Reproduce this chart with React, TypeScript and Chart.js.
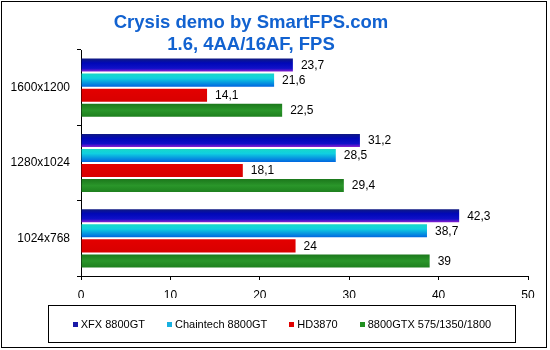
import { useEffect, useRef } from 'react';
import { Chart, registerables } from 'chart.js';

Chart.register(...registerables);

const categories = ['1600x1200', '1280x1024', '1024x768'];
const seriesNames = ['XFX 8800GT', 'Chaintech 8800GT', 'HD3870', '8800GTX 575/1350/1800'];
const xfx = [23.7, 31.2, 42.3];
const chaintech = [21.6, 28.5, 38.7];
const hd3870 = [14.1, 18.1, 24];
const gtx = [22.5, 29.4, 39];
const xMin = 0;
const xMax = 50;
const xStep = 10;
const titleLines = ['Crysis demo by SmartFPS.com', '1.6, 4AA/16AF, FPS'];

const FONT = '"Liberation Sans", Arial, sans-serif';

const gradientStops: [number, string][][] = [
  [[0, '#101a80'], [0.35, '#0008b8'], [0.75, '#1010c8'], [1, '#8a1ed0']],
  [[0, '#18d8c8'], [0.35, '#10d0e0'], [1, '#0066e0']],
  [[0, '#e40000'], [1, '#d80000']],
  [[0, '#1c781c'], [0.5, '#2a962a'], [1, '#1e801e']],
];
const markerColors = ['#1a1aa8', '#18b0e0', '#e00000', '#209020'];

const gradientPlugin = {
  id: 'barGradients',
  beforeDatasetsDraw(chart: any) {
    const ctx = chart.ctx;
    chart.data.datasets.forEach((_: any, i: number) => {
      const meta = chart.getDatasetMeta(i);
      meta.data.forEach((el: any) => {
        const top = el.y - el.height / 2;
        const bottom = el.y + el.height / 2;
        const g = ctx.createLinearGradient(0, top, 0, bottom);
        gradientStops[i].forEach(([o, c]) => g.addColorStop(o, c));
        el.options = Object.assign({}, el.options, { backgroundColor: g });
      });
    });
  },
};

const labelPlugin = {
  id: 'valueLabels',
  afterDatasetsDraw(chart: any) {
    const ctx = chart.ctx;
    ctx.save();
    ctx.font = `12px ${FONT}`;
    ctx.fillStyle = '#000';
    ctx.textAlign = 'left';
    ctx.textBaseline = 'middle';
    chart.data.datasets.forEach((ds: any, i: number) => {
      const meta = chart.getDatasetMeta(i);
      meta.data.forEach((el: any, j: number) => {
        const txt = String(ds.data[j]).replace('.', ',');
        ctx.fillText(txt, el.x + 8, el.y + 0.5);
      });
    });
    ctx.restore();
  },
};

const decorPlugin = {
  id: 'decor',
  afterDraw(chart: any) {
    const ctx = chart.ctx;
    ctx.save();
    // outer border
    ctx.strokeStyle = '#000';
    ctx.lineWidth = 1;
    ctx.strokeRect(1.5, 1.5, 545, 346);
    // title
    ctx.fillStyle = '#1262d0';
    ctx.font = `bold 18.5px ${FONT}`;
    ctx.textAlign = 'center';
    ctx.textBaseline = 'alphabetic';
    ctx.fillText(titleLines[0], 251, 28);
    ctx.fillText(titleLines[1], 251, 50);
    // legend
    const boxL = 48.5, boxT = 305.5, boxW = 467, boxH = 37;
    ctx.strokeRect(boxL, boxT, boxW, boxH);
    ctx.font = `11px ${FONT}`;
    ctx.textAlign = 'left';
    ctx.textBaseline = 'middle';
    const marker = 5, mGap = 3, itemGap = 22;
    const widths = seriesNames.map((n) => ctx.measureText(n).width);
    const total = widths.reduce((a, w) => a + marker + mGap + w, 0) + itemGap * (seriesNames.length - 1);
    let x = boxL + boxW / 2 - total / 2;
    const cy = boxT + boxH / 2;
    seriesNames.forEach((n, i) => {
      ctx.fillStyle = markerColors[i];
      ctx.fillRect(Math.round(x), Math.round(cy - marker / 2), marker, marker);
      ctx.fillStyle = '#000';
      ctx.fillText(n, x + marker + mGap, cy + 0.5);
      x += marker + mGap + widths[i] + itemGap;
    });
    ctx.restore();
  },
};

export default function App() {
  const ref = useRef<HTMLCanvasElement>(null);
  useEffect(() => {
    document.body.style.margin = '0';
    const canvas = ref.current;
    if (!canvas) return;
    const series = [xfx, chaintech, hd3870, gtx];
    const chart = new Chart(canvas, {
      type: 'bar',
      data: {
        labels: categories,
        datasets: series.map((d, i) => ({
          label: seriesNames[i],
          data: d,
          backgroundColor: markerColors[i],
          borderWidth: 0,
          categoryPercentage: 0.8,
          barPercentage: 0.866,
        })),
      },
      options: {
        indexAxis: 'y',
        responsive: false,
        animation: false,
        devicePixelRatio: 1,
        layout: { padding: { top: 50, left: 1, right: 22, bottom: 52 } },
        plugins: {
          legend: { display: false },
          title: { display: false },
          tooltip: { enabled: false },
        },
        scales: {
          x: {
            min: xMin,
            max: xMax,
            ticks: {
              stepSize: xStep,
              color: '#000',
              font: { family: FONT, size: 12 },
              padding: 8,
            },
            grid: { drawOnChartArea: false, drawTicks: true, tickLength: 4, color: '#000' },
            border: { display: true, color: '#000', width: 1 },
            afterFit: (s: any) => { s.height = 22; },
          },
          y: {
            ticks: {
              color: '#000',
              font: { family: FONT, size: 12 },
              padding: 7,
            },
            grid: { offset: true, drawOnChartArea: false, drawTicks: true, tickLength: 4, color: '#000' },
            border: { display: true, color: '#000', width: 1 },
            afterFit: (s: any) => { s.width = 80; },
          },
        },
      },
      plugins: [gradientPlugin, labelPlugin, decorPlugin],
    } as any);
    return () => chart.destroy();
  }, []);
  return <canvas ref={ref} width={550} height={350} style={{ display: 'block' }} />;
}
